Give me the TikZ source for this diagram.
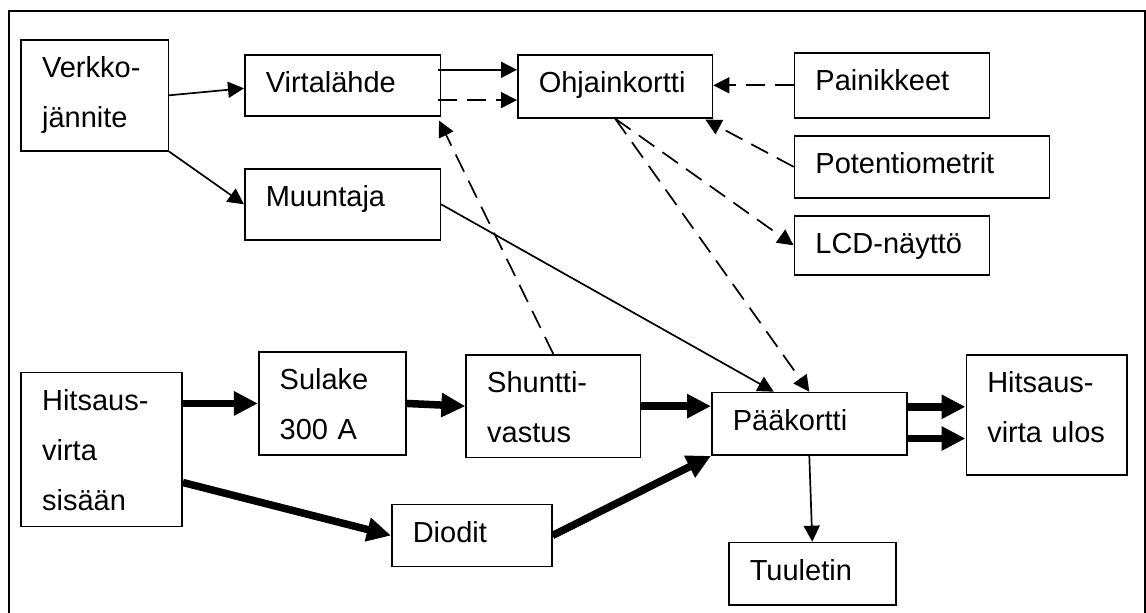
\documentclass[tikz,border=0pt]{standalone}
\usepackage{fontspec}
\setmainfont{Liberation Sans}
\usepackage{tikz}
\usetikzlibrary{calc}
\usetikzlibrary{arrows.meta}

\tikzset{
    blk/.style={draw, line width=1.6pt, anchor=north west, inner xsep=21pt, inner ysep=0pt,
        align=left, text height=37.7pt, font=\fontsize{29pt}{50pt}\selectfont},
    thinarr/.style={line width=1.7pt, -{Triangle[length=16pt,width=16pt]}},
    dasharr/.style={thinarr, dash pattern=on 19pt off 10pt},
    fatarr/.style={line width=7.5pt, -{Triangle[length=24pt,width=23pt]}},
}

\begin{document}
\begin{tikzpicture}[x=1pt, y=-1pt]
        \useasboundingbox (0,0) rectangle (1146,613);

        % frame, open at the bottom
        \draw[line width=1.7pt] (9,613) |- (1145,11) -- (1145,613);

        % upper half
        \node[blk, text width=105.3pt, text depth=73.3pt] (verkko) at (20.3,39) {Verkko-\\jännite};
        \node[blk, text width=153.5pt, text depth=23.3pt] (virta) at (244,54) {Virtalähde};
        \node[blk, text width=153.5pt, text depth=33.3pt] (muunt) at (244,168) {Muuntaja};
        \node[blk, text width=152.7pt, text depth=25.3pt] (ohjain) at (517,54) {Ohjainkortti};
        \node[blk, text width=153pt, text depth=27.3pt] (painik) at (793.6,52) {Painikkeet};
        \node[blk, text width=213.2pt, text depth=24.3pt] (potent) at (793.6,135) {Potentiometrit};
        \node[blk, text width=153pt, text depth=21.3pt] (lcd) at (793.6,215) {LCD-näyttö};

        % lower half
        \node[blk, text width=119pt, text depth=116.3pt] (hitsin) at (20.3,371.7) {Hitsaus-\\virta\\sisään};
        \node[blk, text width=105.1pt, text depth=65.6pt] (sulake) at (257.9,351) {Sulake\\300 A};
        \node[blk, text width=132.2pt, text depth=65pt] (shuntti) at (465.4,354) {Shuntti-\\vastus};
        \node[blk, text width=117.9pt, text depth=24.3pt] (diodit) at (391,503.7) {Diodit};
        \node[blk, text width=153pt, text depth=24.9pt] (paa) at (711,391.7) {Pääkortti};
        \node[blk, text width=118.5pt, text depth=82.6pt] (hitsout) at (965.5,354) {Hitsaus-\\virta ulos};
        \node[blk, text width=125pt, text depth=24.6pt] (tuul) at (728,541.7) {Tuuletin};

        \coordinate (v1) at ([xshift=-3pt,yshift=15.5pt]virta.east);
        \coordinate (v2) at ([xshift=-3pt,yshift=-14.8pt]virta.east);
        \coordinate (p1) at ([yshift=17pt]paa.east);
        \coordinate (p2) at ([yshift=-14.7pt]paa.east);

        \draw[thinarr] (verkko.east) -- ([yshift=-3pt]virta.west);
        \draw[thinarr] (verkko.south east) -- (muunt.west);
        \draw[thinarr] (v1) -- (v1 -| ohjain.west);
        \draw[dasharr] (v2) -- (v2 -| ohjain.west);
        \draw[dasharr] (painik.west) -- (painik.west -| ohjain.east);
        \draw[dasharr] (potent.west) -- ([xshift=-8pt,yshift=-1pt]ohjain.south east);
        \draw[dasharr] (ohjain.south) -- (lcd.west);
        \draw[dasharr] (ohjain.south) -- (paa.north);
        \draw[dasharr] (shuntti.north) -- ([xshift=-2pt,yshift=-4pt]virta.south east);
        \draw[thinarr] (muunt.east) -- ([xshift=-35.5pt]paa.north);

        \draw[fatarr] (sulake.west -| hitsin.east) -- (sulake.west);
        \draw[fatarr] (sulake.east) -- (shuntti.west);
        \draw[fatarr] ([yshift=-33pt]hitsin.east) -- (diodit.west);
        \draw[fatarr] (shuntti.east) -- (shuntti.east -| paa.west);
        \draw[fatarr] (diodit.east) -- (paa.south west);
        \draw[fatarr] (p1) -- (p1 -| hitsout.west);
        \draw[fatarr] (p2) -- (p2 -| hitsout.west);
        \draw[thinarr] (paa.south) -- (tuul.north);
\end{tikzpicture}
\end{document}
